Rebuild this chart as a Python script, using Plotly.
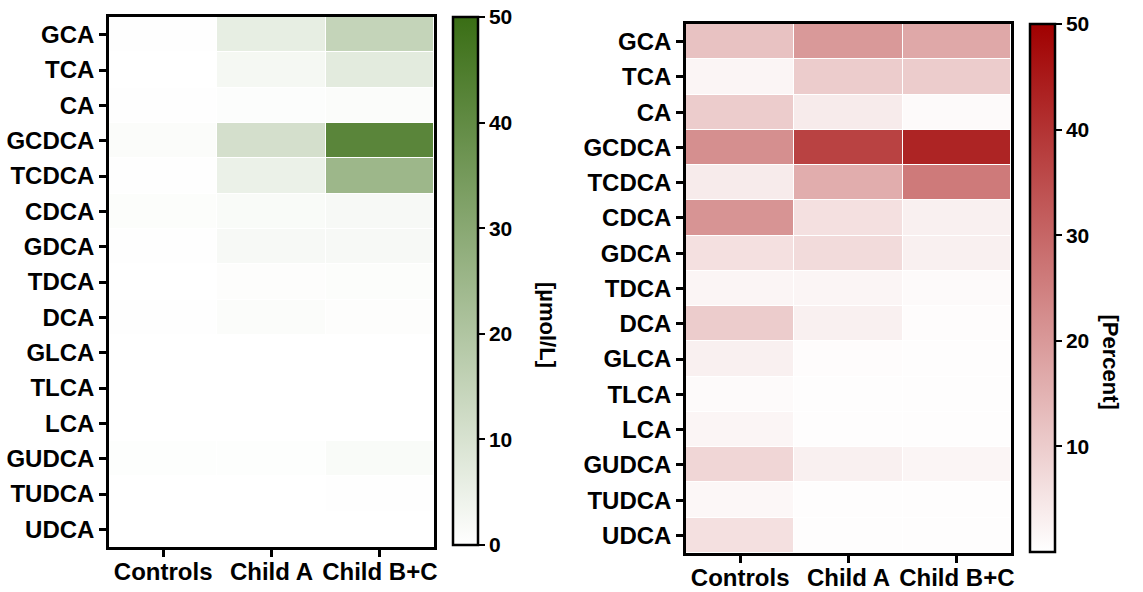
import plotly.graph_objects as go

acids = ["GCA", "TCA", "CA", "GCDCA", "TCDCA", "CDCA", "GDCA", "TDCA", "DCA",
         "GLCA", "TLCA", "LCA", "GUDCA", "TUDCA", "UDCA"]
groups = ["Controls", "Child A", "Child B+C"]

# Concentration [µmol/L]: rows = acids, columns = groups
conc_controls = [0.3, 0.1, 0.2, 1.0, 0.2, 0.8, 0.2, 0.1, 0.2, 0.0, 0.0, 0.1, 0.5, 0.0, 0.0]
conc_childA   = [6.0, 2.5, 0.7, 11.0, 5.0, 1.5, 2.0, 0.6, 1.0, 0.1, 0.0, 0.1, 0.4, 0.1, 0.0]
conc_childBC  = [15.0, 7.0, 1.0, 42.0, 25.0, 2.0, 2.0, 0.8, 0.6, 0.1, 0.0, 0.1, 1.5, 0.2, 0.1]

# Percent composition
pct_controls = [12.0, 2.0, 10.0, 22.0, 4.0, 21.0, 6.0, 2.0, 10.0, 3.0, 1.0, 2.0, 8.0, 1.5, 6.0]
pct_childA   = [20.0, 10.0, 4.0, 37.0, 16.0, 6.0, 7.0, 2.0, 3.0, 0.5, 0.3, 0.4, 3.0, 0.4, 0.4]
pct_childBC  = [17.0, 10.0, 1.0, 43.0, 26.0, 3.0, 3.0, 1.0, 0.5, 0.4, 0.3, 0.3, 2.0, 0.3, 0.3]

conc_ticks = [0, 10, 20, 30, 40, 50]
pct_ticks = [10, 20, 30, 40, 50]

def rows(*cols):
    return [list(r) for r in zip(*cols)]

FONT = "Liberation Sans"
W, H = 1143, 592

fig = go.Figure()

cb_common = dict(
    thickness=25, thicknessmode="pixels", lenmode="fraction", yanchor="top",
    xanchor="left", outlinewidth=2.5, outlinecolor="black", ticks="outside",
    ticklen=6, tickwidth=2, tickcolor="black",
    tickfont=dict(family=FONT, size=21, color="black", weight="bold"),
    xpad=0, ypad=0,
)

fig.add_trace(go.Heatmap(
    z=rows(conc_controls, conc_childA, conc_childBC), x=groups, y=acids,
    zmin=0, zmax=50, xgap=1, ygap=1,
    colorscale=[[0, "#ffffff"], [1, "#3a6e15"]],
    colorbar=dict(x=453 / W, y=1 - 17 / H, len=(545 - 17) / H,
                  tickvals=conc_ticks, **cb_common),
    xaxis="x", yaxis="y",
))

fig.add_trace(go.Heatmap(
    z=rows(pct_controls, pct_childA, pct_childBC), x=groups, y=acids,
    zmin=0, zmax=50, xgap=1, ygap=1,
    colorscale=[[0, "#ffffff"], [1, "#a00000"]],
    colorbar=dict(x=1030 / W, y=1 - 24 / H, len=(552 - 24) / H,
                  tickvals=pct_ticks, **cb_common),
    xaxis="x2", yaxis="y2",
))

axis_common = dict(
    showline=True, linewidth=2.5, linecolor="black", mirror=True,
    ticks="outside", ticklen=7, tickwidth=2.5, tickcolor="black",
    tickfont=dict(family=FONT, size=24, color="black", weight="bold"),
    showgrid=False, zeroline=False,
)

fig.update_layout(
    width=W, height=H,
    margin=dict(l=0, r=0, t=0, b=0, autoexpand=False),
    paper_bgcolor="white", plot_bgcolor="white",
    xaxis=dict(domain=[109 / W, 434 / W], anchor="y", ticklabelstandoff=-6,
               **axis_common),
    yaxis=dict(domain=[1 - 547 / H, 1 - 17 / H], anchor="x",
               autorange="reversed", **axis_common),
    xaxis2=dict(domain=[686 / W, 1011 / W], anchor="y2", ticklabelstandoff=-6,
                **axis_common),
    yaxis2=dict(domain=[1 - 553 / H, 1 - 24 / H], anchor="x2",
                autorange="reversed", **axis_common),
    annotations=[
        dict(text="[µmol/L]", x=548 / W, y=1 - 325 / H, xref="paper", yref="paper",
             showarrow=False, textangle=90,
             font=dict(family=FONT, size=22, color="black", weight="bold")),
        dict(text="[Percent]", x=1125 / W, y=1 - 362 / H, xref="paper", yref="paper",
             showarrow=False, textangle=90,
             font=dict(family=FONT, size=22, color="black", weight="bold")),
    ],
)

fig.write_html("out.html",
               config={"displayModeBar": False},
               post_script="document.body.style.margin='0px';document.body.style.overflow='hidden';")
